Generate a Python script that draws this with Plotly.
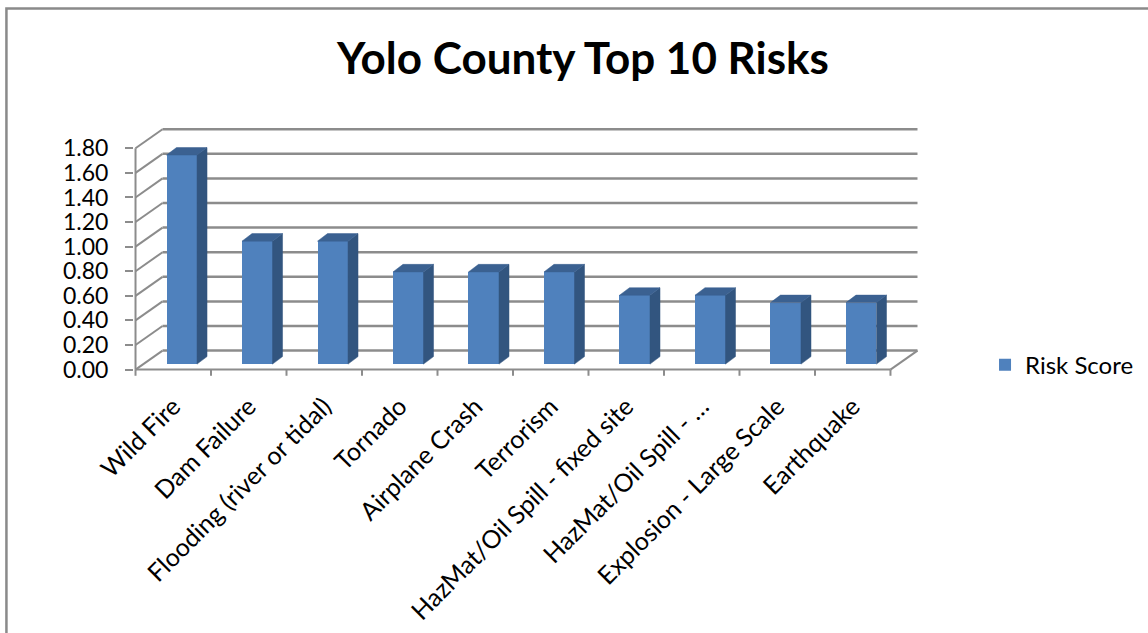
import plotly.graph_objects as go

# ---------------- data ----------------
categories = [
    "Wild Fire",
    "Dam Failure",
    "Flooding (river or tidal)",
    "Tornado",
    "Airplane Crash",
    "Terrorism",
    "HazMat/Oil Spill - fixed site",
    "HazMat/Oil Spill - …",
    "Explosion - Large Scale",
    "Earthquake",
]
risk_scores = [1.70, 1.00, 1.00, 0.75, 0.75, 0.75, 0.56, 0.56, 0.50, 0.50]
y_ticks = [0.0, 0.2, 0.4, 0.6, 0.8, 1.0, 1.2, 1.4, 1.6, 1.8]
y_tick_labels = ["%.2f" % v for v in y_ticks]
series_name = "Risk Score"
title_text = "Yolo County Top 10 Risks"

# ---------------- geometry / style ----------------
W, H = 1148, 633
PX_CAT = 75.45          # pixels per category
PX_VAL = 122.8          # pixels per value unit
FRONT_LEFT = 136.0      # pixel x of front value axis
FRONT_ZERO = 369.5      # pixel y of front floor edge
DX = 27 / PX_CAT        # wall depth offset (x units)
DY = 19 / PX_VAL        # wall depth offset (y units)
BAR_OFF = 8.5 / PX_CAT
BAR_W = 30.5 / PX_CAT
BAR_BASE = 5.5 / PX_VAL
BDX = 10 / PX_CAT
BDY = 7.5 / PX_VAL

n = len(categories)
x0, x1 = -0.52, n - 0.5 + DX + 0.02
y0, y1 = -0.06, y_ticks[-1] + DY + 0.01
l = FRONT_LEFT + (x0 + 0.5) * PX_CAT
plot_w = (x1 - x0) * PX_CAT
r = W - l - plot_w
t = FRONT_ZERO - y1 * PX_VAL
plot_bottom = FRONT_ZERO - y0 * PX_VAL
b = H - plot_bottom
plot_h = plot_bottom - t

GRID = "#8c8c8c"
FRONT = "#4f81bd"
SIDE = "#32557f"
TOP = "#3b6191"
FONT = "Lato"

fig = go.Figure()

# front faces
fig.add_trace(go.Bar(
    x=[i + BAR_OFF for i in range(n)],
    y=risk_scores,
    base=BAR_BASE,
    width=BAR_W,
    marker=dict(color=FRONT, line=dict(width=0)),
    name=series_name,
    showlegend=True,
    hoverinfo="skip",
))

# side and top faces
sx, sy, tx, ty = [], [], [], []
for i, v in enumerate(risk_scores):
    xl = i + BAR_OFF - BAR_W / 2
    xr = i + BAR_OFF + BAR_W / 2
    top = BAR_BASE + v
    sx += [xr, xr + BDX, xr + BDX, xr, xr, None]
    sy += [BAR_BASE, BAR_BASE + BDY, top + BDY, top, BAR_BASE, None]
    tx += [xl, xr, xr + BDX, xl + BDX, xl, None]
    ty += [top, top, top + BDY, top + BDY, top, None]
fig.add_trace(go.Scatter(x=sx, y=sy, mode="lines", fill="toself", fillcolor=SIDE,
                         line=dict(color=SIDE, width=0.5), showlegend=False, hoverinfo="skip"))
fig.add_trace(go.Scatter(x=tx, y=ty, mode="lines", fill="toself", fillcolor=TOP,
                         line=dict(color=TOP, width=0.5), showlegend=False, hoverinfo="skip"))

shapes = []
def seg(xa, ya, xb, yb, w=2, c=GRID):
    shapes.append(dict(type="line", xref="x", yref="y", x0=xa, y0=ya, x1=xb, y1=yb,
                       line=dict(color=c, width=w), layer="below"))

for v in y_ticks:
    seg(-0.5 + DX, v + DY, n - 0.5 + DX, v + DY, 2.5)
    seg(-0.5, v, -0.5 + DX, v + DY, 2)
# floor
seg(-0.5, 0, n - 0.5, 0, 2)
seg(n - 0.5, 0, n - 0.5 + DX, DY, 2)
# front value axis
seg(-0.5, 0, -0.5, y_ticks[-1], 2)
# category boundary ticks
for k in range(n + 1):
    seg(k - 0.5, 0, k - 0.5, -0.05, 2)

# outer chart border
shapes.append(dict(type="rect", xref="paper", yref="paper",
                   x0=(7 - l) / plot_w, x1=(W + 20 - l) / plot_w,
                   y0=(plot_bottom - (H + 20)) / plot_h, y1=(plot_bottom - 9) / plot_h,
                   line=dict(color="#8a8a8a", width=2.5), fillcolor="rgba(0,0,0,0)", layer="below"))

fig.update_layout(
    width=W, height=H, autosize=False,
    margin=dict(l=l, r=r, t=t, b=b, pad=0, autoexpand=False),
    paper_bgcolor="white", plot_bgcolor="rgba(0,0,0,0)",
    shapes=shapes,
    title=dict(text=title_text, x=583 / W, xanchor="center", xref="container",
               y=1 - 59 / H, yanchor="middle", yref="container",
               font=dict(family=FONT, size=44, color="black", weight="bold")),
    xaxis=dict(range=[x0, x1], tickmode="array", tickvals=list(range(n)), ticktext=categories,
               tickangle=-45, ticks="", showgrid=False, zeroline=False, showline=False,
               ticklabelstandoff=9, tickfont=dict(family=FONT, size=25, color="black"),
               automargin=False, fixedrange=True),
    yaxis=dict(range=[y0, y1], tickmode="array", tickvals=y_ticks, ticktext=y_tick_labels,
               ticks="outside", ticklen=8, tickwidth=2, tickcolor=GRID,
               showgrid=False, zeroline=False, showline=False, ticklabelstandoff=12,
               tickfont=dict(family=FONT, size=23, color="black"),
               automargin=False, fixedrange=True),
    legend=dict(x=(985 - l) / plot_w, xanchor="left", y=(plot_bottom - 365) / plot_h,
                yanchor="middle", font=dict(family=FONT, size=24, color="black"),
                bgcolor="rgba(0,0,0,0)"),
    bargap=0, barmode="overlay",
)

fig.write_html("out.html")
